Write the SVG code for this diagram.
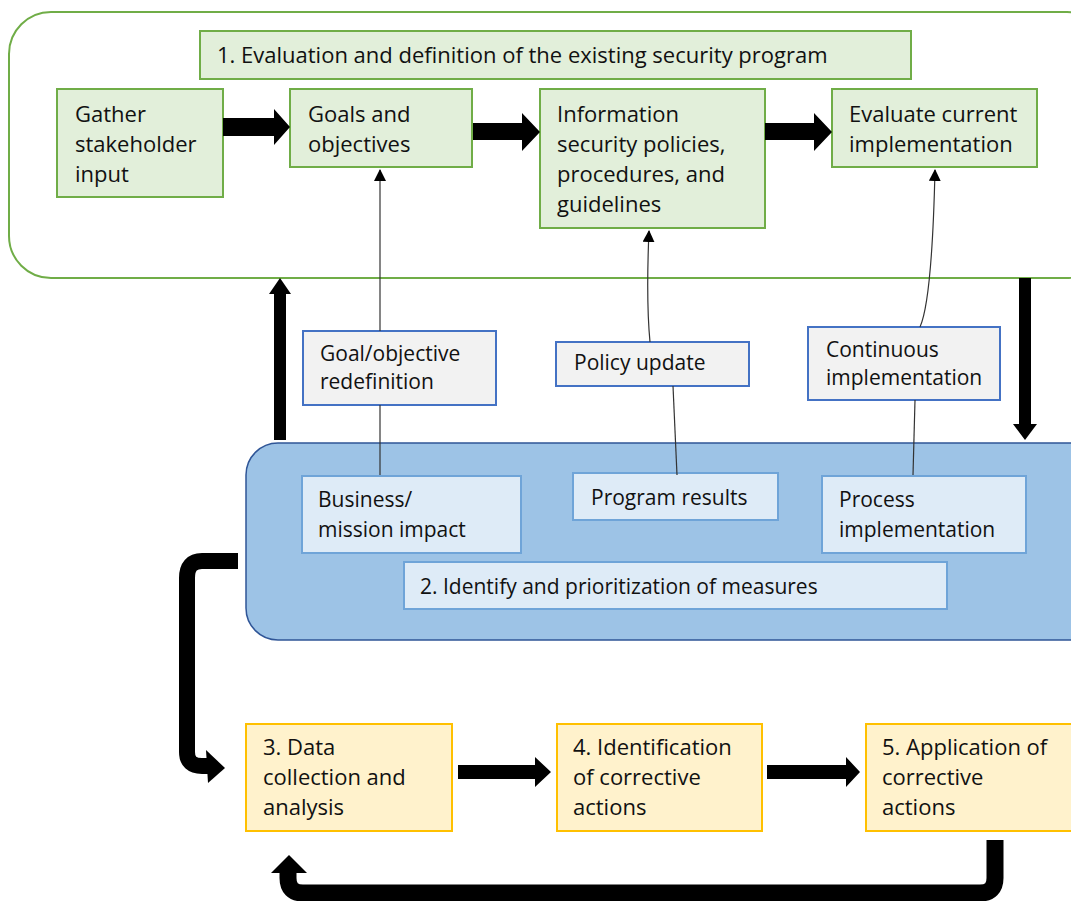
<svg xmlns="http://www.w3.org/2000/svg" width="1071" height="901" viewBox="0 0 1071 901">
<defs>
<marker id="ah" markerWidth="12" markerHeight="14" refX="11" refY="6" orient="auto" markerUnits="userSpaceOnUse"><path d="M0,0 L12,6 L0,12 Z" fill="#000"/></marker>
<style>
text{font-family:"Open Sans","Liberation Sans",sans-serif;font-size:22px;fill:#111}
.g{fill:#e2efda;stroke:#70ad47;stroke-width:2}
.lb{fill:#f2f2f2;stroke:#4472c4;stroke-width:2}
.db{fill:#deebf7;stroke:#6fa4d8;stroke-width:2}
.y{fill:#fff2cc;stroke:#ffc000;stroke-width:2}
.thin{fill:none;stroke:#333;stroke-width:1.2}
.fat{fill:#000}
.s{font-size:21px}
</style>
</defs>
<rect width="1071" height="901" fill="#fff"/>
<g id="stage1-frame"><rect x="9" y="12" width="1100" height="266" rx="42" fill="#fff" stroke="#70ad47" stroke-width="2"/></g>
<g id="stage2-frame"><rect x="246" y="443" width="860" height="197" rx="32" fill="#9dc3e6" stroke="#2f5597" stroke-width="1.5"/></g>

<g id="title1"><rect class="g" x="200" y="31" width="711" height="48"/><text x="217" y="63">1. Evaluation and definition of the existing security program</text></g>
<g id="gather"><rect class="g" x="57" y="89" width="166" height="108"/><text x="75" y="122">Gather</text><text x="75" y="152">stakeholder</text><text x="75" y="182">input</text></g>
<g id="goals"><rect class="g" x="290" y="89" width="182" height="78"/><text x="308" y="122">Goals and</text><text x="308" y="152">objectives</text></g>
<g id="info"><rect class="g" x="540" y="89" width="225" height="139"/><text x="557" y="122">Information</text><text x="557" y="152">security policies,</text><text x="557" y="182">procedures, and</text><text x="557" y="212">guidelines</text></g>
<g id="evaluate"><rect class="g" x="832" y="89" width="205" height="78"/><text x="849" y="122">Evaluate current</text><text x="849" y="152">implementation</text></g>

<g id="goalredef"><rect class="lb" x="303" y="331" width="193" height="74"/><text class="s" x="320" y="361">Goal/objective</text><text class="s" x="320" y="389">redefinition</text></g>
<g id="policyupdate"><rect class="lb" x="556" y="342" width="193" height="44"/><text class="s" x="574" y="370">Policy update</text></g>
<g id="continuous"><rect class="lb" x="808" y="327" width="192" height="73"/><text class="s" x="826" y="357">Continuous</text><text class="s" x="826" y="385">implementation</text></g>

<g id="business"><rect class="db" x="302" y="476" width="219" height="77"/><text class="s" x="318" y="507">Business/</text><text class="s" x="318" y="537">mission impact</text></g>
<g id="programresults"><rect class="db" x="573" y="473" width="205" height="47"/><text class="s" x="591" y="505">Program results</text></g>
<g id="process"><rect class="db" x="822" y="476" width="204" height="77"/><text class="s" x="839" y="507">Process</text><text class="s" x="839" y="537">implementation</text></g>
<g id="title2"><rect class="db" x="404" y="562" width="543" height="47"/><text class="s" x="420" y="594">2. Identify and prioritization of measures</text></g>

<g id="step3"><rect class="y" x="246" y="724" width="206" height="107"/><text x="263" y="755">3. Data</text><text x="263" y="785">collection and</text><text x="263" y="815">analysis</text></g>
<g id="step4"><rect class="y" x="557" y="724" width="205" height="107"/><text x="573" y="755">4. Identification</text><text x="573" y="785">of corrective</text><text x="573" y="815">actions</text></g>
<g id="step5"><rect class="y" x="866" y="724" width="210" height="107"/><text x="882" y="755">5. Application of</text><text x="882" y="785">corrective</text><text x="882" y="815">actions</text></g>

<g id="connectors">
<path class="fat" d="M223,118 H274 V109 L290,127 L274,145 V136 H223 Z"/>
<path class="fat" d="M473,123 H522 V113 L540,132 L522,151 V140 H473 Z"/>
<path class="fat" d="M765,123 H814 V113 L832,132 L814,151 V140 H765 Z"/>
<path class="fat" d="M274,440 V294 H269 L280,278 L291,294 H286 V440 Z"/>
<path class="fat" d="M1019,278 V424 H1013 L1025,440 L1037,424 H1031 V278 Z"/>
<path class="fat" d="M458,765 H535 V757 L551,772 L535,787 V779 H458 Z"/>
<path class="fat" d="M767,765 H846 V757 L860,772 L846,787 V779 H767 Z"/>
<path d="M238,561 H202 Q187,561 187,578 V752 Q187,766 202,766 H208" fill="none" stroke="#000" stroke-width="16"/>
<path class="fat" d="M206,750 L225,768 L208,783 Z"/>
<path d="M995,840 V878 Q995,893 980,893 H303 Q288,893 288,878 V870" fill="none" stroke="#000" stroke-width="17"/>
<path class="fat" d="M271,873 L289,855 L307,873 Z"/>
<path class="thin" d="M380,331 V170" marker-end="url(#ah)"/>
<path class="thin" d="M380,475 V405"/>
<path class="thin" d="M650,342 Q646,300 649,231" marker-end="url(#ah)"/>
<path class="thin" d="M677,475 L673,386"/>
<path class="thin" d="M920,327 Q932,300 935,170" marker-end="url(#ah)"/>
<path class="thin" d="M913,475 L915,400"/>
</g>
</svg>
